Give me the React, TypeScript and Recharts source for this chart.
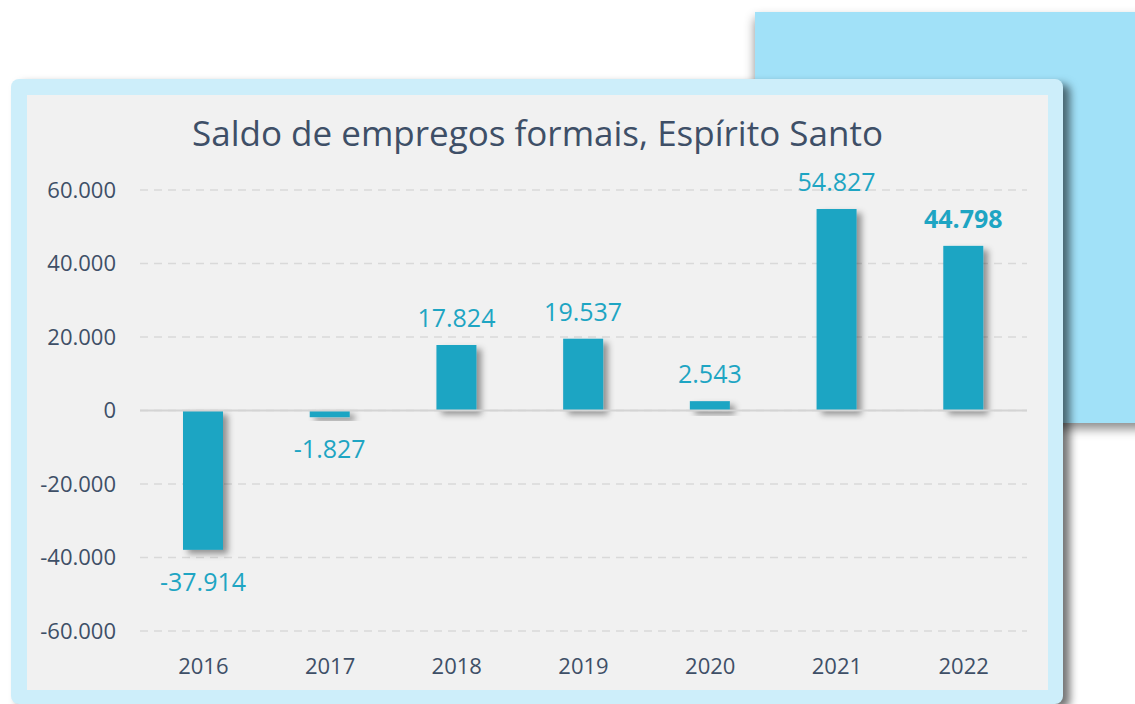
import React from "react";
import { BarChart, Bar, XAxis, YAxis, CartesianGrid, ReferenceLine, LabelList } from "recharts";

const years = ["2016", "2017", "2018", "2019", "2020", "2021", "2022"];
const saldo = [-37914, -1827, 17824, 19537, 2543, 54827, 44798];
const yTicks = [-60000, -40000, -20000, 0, 20000, 40000, 60000];
const boldYear = "2022";

const data = years.map((y, i) => ({ year: y, saldo: saldo[i] }));

const BAR = "#1ea5c3";
const TEXT = "#3e4f67";
const FONT = "'Segoe UI', 'Open Sans', 'Noto Sans', sans-serif";

const fmt = (v: number) => v.toLocaleString("pt-BR");

const ShadowBar = (props: any) => {
  const { x, y, width, height } = props;
  const h = Math.abs(height);
  const yy = height < 0 ? y + height : y;
  return <rect x={x} y={yy} width={width} height={h} fill={BAR} filter="url(#barShadow)" />;
};

const ValueLabel = (props: any) => {
  const { x, y, width, height, value, index } = props;
  const cx = x + width / 2;
  const isBold = years[index] === boldYear;
  const neg = value < 0;
  const bottom = height < 0 ? y : y + height;
  const top = height < 0 ? y + height : y;
  const ty = neg ? Math.max(bottom, top) + 41 : Math.min(top, bottom) - 18;
  return (
    <text x={cx} y={ty} textAnchor="middle" fill={BAR} fontSize={25} fontWeight={isBold ? 700 : 400} fontFamily={FONT}>
      {fmt(value)}
    </text>
  );
};

export default function App() {
  return (
    <div style={{ position: "absolute", left: 0, top: 0, width: 1135, height: 704, background: "#fff", overflow: "hidden", fontFamily: FONT }}>
      <svg width={0} height={0} style={{ position: "absolute" }}>
        <defs>
          <filter id="barShadow" x="-50%" y="-50%" width="200%" height="200%">
            <feDropShadow dx={5} dy={4} stdDeviation={3} floodColor="#000" floodOpacity={0.4} />
          </filter>
        </defs>
      </svg>
      <div style={{ position: "absolute", left: 755, top: 12, width: 400, height: 411, background: "#a1e1f8", boxShadow: "0 6px 10px rgba(0,0,0,0.45)" }} />
      <div style={{ position: "absolute", left: 11, top: 79, width: 1052, height: 625, background: "#cdeefa", borderRadius: 8, boxShadow: "7px 5px 8px rgba(0,0,0,0.55)" }} />
      <div style={{ position: "absolute", left: 27, top: 95, width: 1021, height: 595, background: "#f1f1f1" }}>
        <div style={{ position: "absolute", left: 0, top: 14, width: 1021, textAlign: "center", fontSize: 35, color: TEXT, fontFamily: FONT, whiteSpace: "nowrap" }}>
          Saldo de empregos formais, Espírito Santo
        </div>
        <BarChart width={1021} height={595} data={data} margin={{ top: 95, right: 21, left: 0, bottom: 0 }} style={{ position: "absolute", left: 0, top: 0 }}>
          <CartesianGrid vertical={false} stroke="#d9d9d9" strokeWidth={1.5} strokeDasharray="8 6" />
          <XAxis dataKey="year" axisLine={false} tickLine={false} tickSize={0} tickMargin={27} height={59} tick={{ fill: TEXT, fontSize: 22, fontFamily: FONT }} interval={0} />
          <YAxis domain={[-60000, 60000]} ticks={yTicks} width={113} axisLine={false} tickLine={false} tickSize={0} tickMargin={24} tickFormatter={(v: number) => fmt(v)} tick={{ fill: TEXT, fontSize: 22, fontFamily: FONT }} />
          <ReferenceLine y={0} stroke="#d4d4d4" strokeWidth={2} />
          <Bar dataKey="saldo" barSize={40} fill={BAR} shape={ShadowBar} isAnimationActive={false}>
            <LabelList dataKey="saldo" content={ValueLabel} />
          </Bar>
        </BarChart>
      </div>
    </div>
  );
}
